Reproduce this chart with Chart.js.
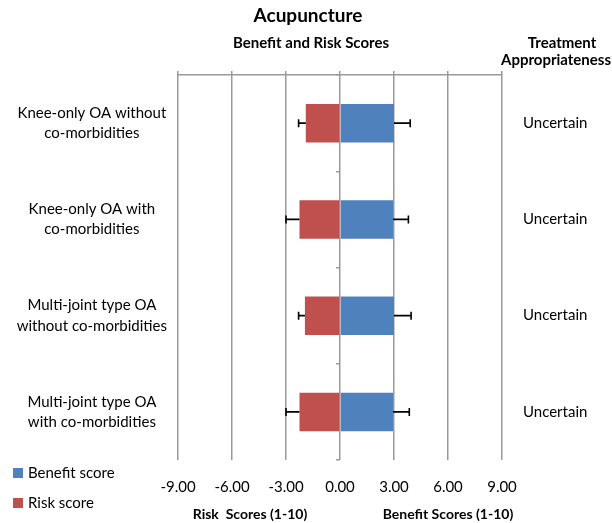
<!DOCTYPE html>
<html>
<head>
<meta charset="utf-8">
<script src="https://cdn.jsdelivr.net/npm/chart.js@4"></script>
<style>
  html, body { margin: 0; padding: 0; background: #fff; }
  #wrap { width: 612px; height: 523px; }
</style>
</head>
<body>
<div id="wrap"><canvas id="myChart" width="612" height="523"></canvas></div>
<script>
// data
const groups = [
  ['Knee-only OA without', 'co-morbidities'],
  ['Knee-only OA with', 'co-morbidities'],
  ['Multi-joint type OA', 'without co-morbidities'],
  ['Multi-joint type OA', 'with co-morbidities']
];
const appropriateness = ['Uncertain', 'Uncertain', 'Uncertain', 'Uncertain'];
const benefit = [3.0, 2.95, 3.0, 2.95];
const benefitErr = [0.9, 0.85, 0.95, 0.9];
const risk = [1.9, 2.25, 1.95, 2.25];
const riskErr = [0.4, 0.75, 0.35, 0.75];
const ticksX = [-9, -6, -3, 0, 3, 6, 9];

const FONT = 'Lato, "Open Sans", sans-serif';
const blue = '#4F81BD';
const red = '#C0504D';
const gridCol = '#9a9a9a';

// error bars, outward only (risk to the left, benefit to the right)
const errorBars = {
  id: 'errorBars',
  afterDatasetsDraw(chart) {
    const ctx = chart.ctx;
    const xs = chart.scales.x, ys = chart.scales.y;
    ctx.save();
    ctx.strokeStyle = '#000';
    ctx.lineWidth = 1.6;
    for (let i = 0; i < groups.length; i++) {
      const yc = ys.getPixelForValue(i);
      const pairs = [
        [benefit[i], benefit[i] + benefitErr[i]],
        [-risk[i], -(risk[i] + riskErr[i])]
      ];
      pairs.forEach(function(p) {
        const x0 = xs.getPixelForValue(p[0]);
        const x1 = xs.getPixelForValue(p[1]);
        ctx.beginPath();
        ctx.moveTo(x0, yc); ctx.lineTo(x1, yc);
        ctx.moveTo(x1, yc - 4); ctx.lineTo(x1, yc + 4);
        ctx.stroke();
      });
    }
    ctx.restore();
  }
};

// header texts, axis captions and legend
const extras = {
  id: 'extras',
  afterDraw(chart) {
    const ctx = chart.ctx;
    const xs = chart.scales.x;
    ctx.save();
    ctx.fillStyle = '#000';
    ctx.textAlign = 'center';
    ctx.textBaseline = 'middle';
    ctx.font = 'bold 19px ' + FONT;
    ctx.fillText('Acupuncture', 308, 16);
    ctx.font = 'bold 15px ' + FONT;
    ctx.fillText('Benefit and Risk Scores', 311, 43);
    ctx.fillText('Treatment', 562, 43);
    ctx.fillText('Appropriateness', 556, 60);
    ctx.font = 'bold 14px ' + FONT;
    ctx.fillText('Risk  Scores (1-10)', xs.getPixelForValue(-5), 514);
    ctx.fillText('Benefit Scores (1-10)', xs.getPixelForValue(6), 514);

    // legend
    ctx.textAlign = 'left';
    ctx.font = '15px ' + FONT;
    chart.data.datasets.forEach(function(ds, k) {
      const y = 473 + k * 30;
      ctx.fillStyle = ds.backgroundColor;
      ctx.fillRect(13, y - 5, 10, 10);
      ctx.fillStyle = '#000';
      ctx.fillText(ds.label, 28, y);
    });
    ctx.restore();
  }
};

const myChart = new Chart(document.getElementById('myChart').getContext('2d'), {
  type: 'bar',
  data: {
    labels: groups,
    datasets: [{
      label: 'Benefit score',
      data: benefit,
      backgroundColor: blue,
      barPercentage: 0.4,
      categoryPercentage: 1
    }, {
      label: 'Risk score',
      data: risk.map(v => -v),
      backgroundColor: red,
      barPercentage: 0.4,
      categoryPercentage: 1
    }]
  },
  options: {
    indexAxis: 'y',
    responsive: false,
    animation: false,
    layout: { padding: { top: 71, right: 4, left: 0, bottom: 0 } },
    scales: {
      x: {
        type: 'linear',
        position: 'bottom',
        stacked: true,
        min: -9, max: 9,
        afterBuildTicks: s => { s.ticks = ticksX.map(v => ({ value: v })); },
        afterFit: s => { s.height = 63; },
        ticks: {
          color: '#000',
          padding: 18,
          font: { family: FONT, size: 15 },
          callback: v => v.toFixed(2)
        },
        grid: { color: gridCol, lineWidth: 1.5, drawTicks: false },
        border: { display: false }
      },
      xt: {
        type: 'linear',
        position: 'top',
        min: -9, max: 9,
        afterBuildTicks: s => { s.ticks = ticksX.map(v => ({ value: v })); },
        afterFit: s => { s.height = 4; },
        ticks: { display: false },
        grid: { color: gridCol, lineWidth: 1.5, drawOnChartArea: false, tickLength: 4 },
        border: { display: true, color: gridCol, width: 1.5 }
      },
      y: {
        position: 'left',
        stacked: true,
        afterFit: s => { s.width = 178; },
        ticks: {
          color: '#000',
          crossAlign: 'center',
          font: { family: FONT, size: 15, lineHeight: 1.35 }
        },
        grid: { display: false },
        border: { display: false }
      },
      yr: {
        type: 'category',
        position: 'right',
        labels: appropriateness,
        offset: true,
        afterFit: s => { s.width = 106; },
        ticks: {
          color: '#000',
          padding: 13,
          font: { family: FONT, size: 15 }
        },
        grid: { display: false },
        border: { display: false }
      },
      y0: {
        type: 'category',
        position: { x: 0 },
        labels: appropriateness.map((a, i) => 'g' + i),
        offset: true,
        afterFit: s => { s.width = 0; },
        ticks: { display: false },
        grid: { offset: true, color: gridCol, lineWidth: 1.5, drawOnChartArea: false, tickLength: 4 },
        border: { display: false }
      }
    },
    plugins: {
      legend: { display: false },
      title: { display: false },
      tooltip: { enabled: false }
    }
  },
  plugins: [errorBars, extras]
});
</script>
</body>
</html>
